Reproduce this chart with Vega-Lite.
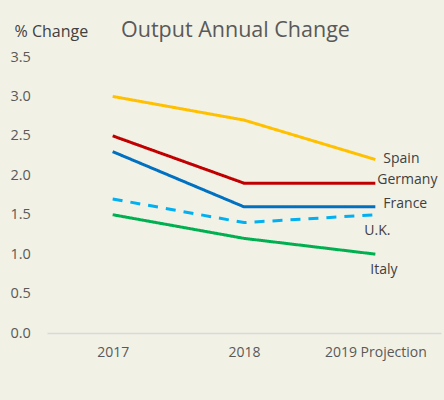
{
  "$schema": "https://vega.github.io/schema/vega-lite/v6.json",
  "width": 394,
  "height": 276,
  "autosize": {"type": "none"},
  "padding": {"left": 47, "top": 57, "right": 3, "bottom": 67},
  "background": "#F2F1E6",
  "config": {
    "view": {"stroke": null},
    "font": "Open Sans",
    "axis": {"labelColor": "#595959", "labelFont": "Open Sans", "labelFontSize": 14.5, "grid": false, "ticks": false}
  },
  "title": {
    "text": "Output Annual Change",
    "anchor": "start",
    "dx": 111,
    "dy": 32,
    "offset": 14,
    "fontSize": 21.5,
    "fontWeight": "normal",
    "color": "#595959",
    "font": "Open Sans"
  },
  "data": {
    "values": [
      {"year": "2017", "country": "Spain", "value": 3.0},
      {"year": "2018", "country": "Spain", "value": 2.7},
      {"year": "2019 Projection", "country": "Spain", "value": 2.2},
      {"year": "2017", "country": "Germany", "value": 2.5},
      {"year": "2018", "country": "Germany", "value": 1.9},
      {"year": "2019 Projection", "country": "Germany", "value": 1.9},
      {"year": "2017", "country": "France", "value": 2.3},
      {"year": "2018", "country": "France", "value": 1.6},
      {"year": "2019 Projection", "country": "France", "value": 1.6},
      {"year": "2017", "country": "U.K.", "value": 1.7},
      {"year": "2018", "country": "U.K.", "value": 1.4},
      {"year": "2019 Projection", "country": "U.K.", "value": 1.5},
      {"year": "2017", "country": "Italy", "value": 1.5},
      {"year": "2018", "country": "Italy", "value": 1.2},
      {"year": "2019 Projection", "country": "Italy", "value": 1.0}
    ]
  },
  "encoding": {
    "x": {
      "field": "year", "type": "ordinal", "sort": null,
      "scale": {"type": "point", "padding": 0.5},
      "axis": {"title": null, "labelAngle": 0, "labelPadding": 12, "domainColor": "#D9D9D9", "domainWidth": 1.5, "labelFontSize": 14}
    },
    "y": {
      "field": "value", "type": "quantitative",
      "scale": {"domain": [0, 3.5], "nice": false},
      "axis": {
        "values": [0, 0.5, 1, 1.5, 2, 2.5, 3, 3.5], "format": ".1f",
        "domain": false, "labelAlign": "left", "labelPadding": 37,
        "title": "% Change", "titleAngle": 0, "titleAlign": "left", "titleBaseline": "alphabetic",
        "titleX": -33, "titleY": -21, "titleFontWeight": "normal", "titleFontSize": 16, "titleColor": "#404040", "titleFont": "Open Sans"
      }
    }
  },
  "layer": [
    {
      "mark": {"type": "line", "strokeWidth": 3},
      "encoding": {
        "color": {
          "field": "country", "type": "nominal", "legend": null,
          "scale": {"domain": ["Spain", "Germany", "France", "U.K.", "Italy"], "range": ["#FFC000", "#C00000", "#0070C0", "#00B0F0", "#00B050"]}
        },
        "strokeDash": {
          "field": "country", "type": "nominal", "legend": null,
          "scale": {"domain": ["Spain", "Germany", "France", "U.K.", "Italy"], "range": [[1, 0], [1, 0], [1, 0], [10, 8], [1, 0]]}
        }
      }
    },
    {
      "transform": [{"filter": "datum.country == 'Spain' && datum.year == '2019 Projection'"}],
      "mark": {"type": "text", "align": "left", "dx": 8, "dy": -1, "fontSize": 14, "color": "#404040"},
      "encoding": {"text": {"field": "country"}}
    },
    {
      "transform": [{"filter": "datum.country == 'Germany' && datum.year == '2019 Projection'"}],
      "mark": {"type": "text", "align": "left", "dx": 2, "dy": -3, "fontSize": 14, "color": "#404040"},
      "encoding": {"text": {"field": "country"}}
    },
    {
      "transform": [{"filter": "datum.country == 'France' && datum.year == '2019 Projection'"}],
      "mark": {"type": "text", "align": "left", "dx": 8, "dy": -3, "fontSize": 14, "color": "#404040"},
      "encoding": {"text": {"field": "country"}}
    },
    {
      "transform": [{"filter": "datum.country == 'U.K.' && datum.year == '2019 Projection'"}],
      "mark": {"type": "text", "align": "left", "dx": -11, "dy": 16, "fontSize": 14, "color": "#404040"},
      "encoding": {"text": {"field": "country"}}
    },
    {
      "transform": [{"filter": "datum.country == 'Italy' && datum.year == '2019 Projection'"}],
      "mark": {"type": "text", "align": "left", "dx": -5, "dy": 16, "fontSize": 14, "color": "#404040"},
      "encoding": {"text": {"field": "country"}}
    }
  ]
}
